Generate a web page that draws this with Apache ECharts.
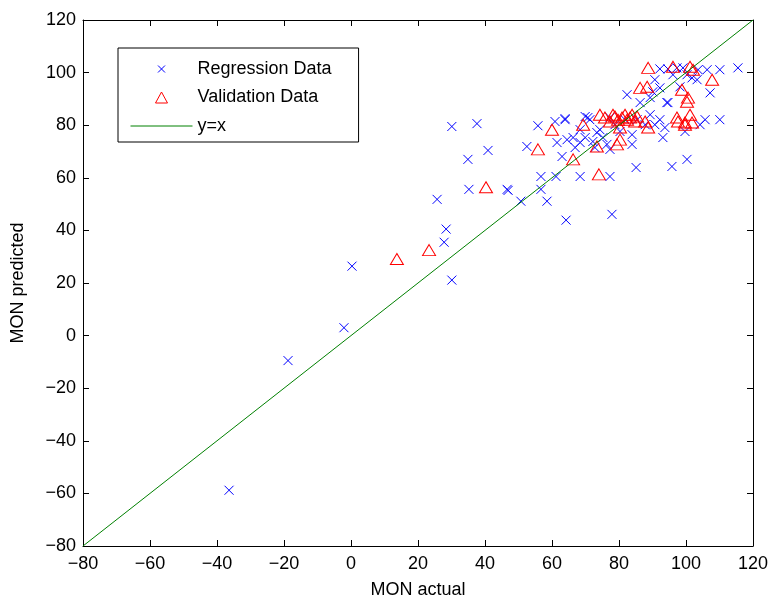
<!DOCTYPE html>
<html>
<head>
<meta charset="utf-8">
<script src="https://cdn.jsdelivr.net/npm/echarts@6/dist/echarts.min.js"></script>
<style>html,body{margin:0;padding:0;background:#fff}#c{width:775px;height:604px}</style>
</head>
<body>
<div id="c"></div>
<script>
const xTicks = [-80, -60, -40, -20, 0, 20, 40, 60, 80, 100, 120];
const yTicks = [-80, -60, -40, -20, 0, 20, 40, 60, 80, 100, 120];
const regX = [-36.4,-18.8,-2.1,0.3,25.7,27.8,28.4,30.1,30.1,34.9,35.2,37.6,40.9,46.6,46.9,50.7,52.5,56.7,56.7,58.5,55.8,60.9,63.9,69.9,61.5,63.0,61.2,68.4,64.2,77.3,77.9,85.1,95.8,100.3,110.1,115.5,107.2,93.1,83.9,83.9,99.7,92.2,94.6,97.3,99.1,103.6,106.3,110.1,90.7,92.2,82.4,94.6,98.2,101.8,103.3,89.3,90.1,96.1,100.3,63.9,70.7,69.9,64.5,66.3,72.2,73.4,77.3,85.4,89.3,92.2,94.3,86.3,74.3,75.2,76.4,77.3,72.8,78.8,80.3,81.8,87.8,90.7,93.7,104.2,105.7,68.4,71.3,66.9,68.4];
const regY = [-58.8,-9.5,3.0,26.4,51.8,35.5,40.5,21.1,79.5,67.0,55.6,80.6,70.4,55.6,55.2,51.1,71.9,60.5,55.6,51.1,79.8,81.4,82.5,83.3,73.4,68.1,60.5,60.5,43.9,60.5,46.1,63.9,64.3,67.0,82.1,101.8,92.3,75.3,72.7,76.4,77.6,101.4,101.4,101.8,101.8,101.1,101.1,101.1,97.3,94.2,91.6,88.6,94.6,98.0,97.3,90.5,92.7,99.2,99.2,82.1,82.9,75.3,74.5,75.3,73.8,77.2,82.9,82.1,84.0,82.1,88.6,88.6,78.3,75.3,72.7,70.8,71.5,80.2,77.6,82.1,80.2,80.2,79.1,80.2,82.1,78.3,82.1,71.5,73.4];
const valX = [13.7,23.3,40.3,55.8,60.0,66.3,74.0,69.3,73.4,74.3,78.2,80.9,82.4,83.9,85.4,80.3,87.8,88.7,79.4,80.3,97.3,99.7,101.8,100.3,88.7,96.1,101.2,102.1,107.8,86.3,88.4,98.8,100.6,78.8,75.8,81.8,83.3,84.8,77.3,79.7,97.6,99.7,101.2];
const valY = [29.1,32.5,56.4,70.8,78.3,67.0,61.3,80.2,71.9,84.0,84.0,82.9,82.1,84.0,83.3,79.1,81.4,79.1,72.7,74.5,82.9,81.0,81.0,88.9,101.8,102.2,102.2,101.1,97.3,94.2,94.6,93.5,90.5,83.3,82.9,84.0,82.9,81.4,81.4,82.1,81.4,80.2,84.0];
const lineX = [-80, 120];
const lineY = [-80, 120];

const FONT = 'Liberation Sans, Arial, sans-serif';
const fmt = v => String(v).replace('-', '\u2212');
const zip = (a, b) => a.map((v, i) => [v, b[i]]);
const X_SYM = 'path://M0,0M16,16M4,4L12,12M12,4L4,12';
const TRI_SYM = 'path://M0,0M14,14M1,12.5L7,1.5L13,12.5Z';
const LINE_SYM = 'path://M0,0M62,14M0,7L62,7';

const chart = echarts.init(document.getElementById('c'), null, {renderer: 'canvas'});
const axisCommon = {
  type: 'value', min: -80, max: 120, interval: 20,
  axisLine: {show: true, onZero: false, lineStyle: {color: '#000', width: 1}},
  axisTick: {show: true, inside: true, length: 6, lineStyle: {color: '#000'}},
  splitLine: {show: false}
};
chart.setOption({
  animation: false,
  backgroundColor: '#fff',
  grid: {left: 83, right: 22, top: 20, bottom: 56},
  xAxis: [
    Object.assign({}, axisCommon, {
      position: 'bottom',
      name: 'MON actual', nameLocation: 'middle', nameGap: 35,
      nameTextStyle: {fontSize: 18, color: '#000', fontFamily: FONT},
      axisLabel: {fontSize: 18, color: '#000', fontFamily: FONT, margin: 9, formatter: fmt}
    }),
    Object.assign({}, axisCommon, {position: 'top', axisLabel: {show: false}})
  ],
  yAxis: [
    Object.assign({}, axisCommon, {
      position: 'left',
      name: 'MON predicted', nameLocation: 'middle', nameGap: 56,
      nameTextStyle: {fontSize: 18, color: '#000', fontFamily: FONT},
      axisLabel: {fontSize: 18, color: '#000', fontFamily: FONT, margin: 7, formatter: fmt}
    }),
    Object.assign({}, axisCommon, {position: 'right', axisLabel: {show: false}})
  ],
  legend: {
    orient: 'vertical', left: 118, top: 48,
    padding: [12, 27, 7, 12],
    itemWidth: 62, itemHeight: 14, itemGap: 10.5,
    borderColor: '#000', borderWidth: 1, borderRadius: 0, backgroundColor: '#fff',
    textStyle: {fontSize: 18, color: '#000', fontFamily: FONT},
    data: [
      {name: 'Regression Data', icon: X_SYM,
       itemStyle: {color: 'rgba(0,0,0,0)', borderColor: '#0000ff', borderWidth: 1}},
      {name: 'Validation Data', icon: TRI_SYM,
       itemStyle: {color: 'rgba(0,0,0,0)', borderColor: '#ff0000', borderWidth: 1}},
      {name: 'y=x', icon: LINE_SYM,
       itemStyle: {color: 'rgba(0,0,0,0)', borderColor: '#008000', borderWidth: 1}}
    ]
  },
  series: [
    {
      name: 'Regression Data', type: 'scatter',
      symbol: X_SYM,
      symbolSize: 18,
      itemStyle: {color: 'rgba(0,0,0,0)', borderColor: '#0000ff', borderWidth: 1, opacity: 1},
      data: zip(regX, regY)
    },
    {
      name: 'Validation Data', type: 'scatter',
      symbol: 'triangle',
      symbolSize: [13, 11],
      itemStyle: {color: 'rgba(0,0,0,0)', borderColor: '#ff0000', borderWidth: 1, opacity: 1},
      data: zip(valX, valY)
    },
    {
      name: 'y=x', type: 'line', symbol: 'none', showSymbol: false,
      lineStyle: {color: '#008000', width: 1},
      itemStyle: {color: '#008000'},
      data: zip(lineX, lineY)
    }
  ]
});
</script>
</body>
</html>
